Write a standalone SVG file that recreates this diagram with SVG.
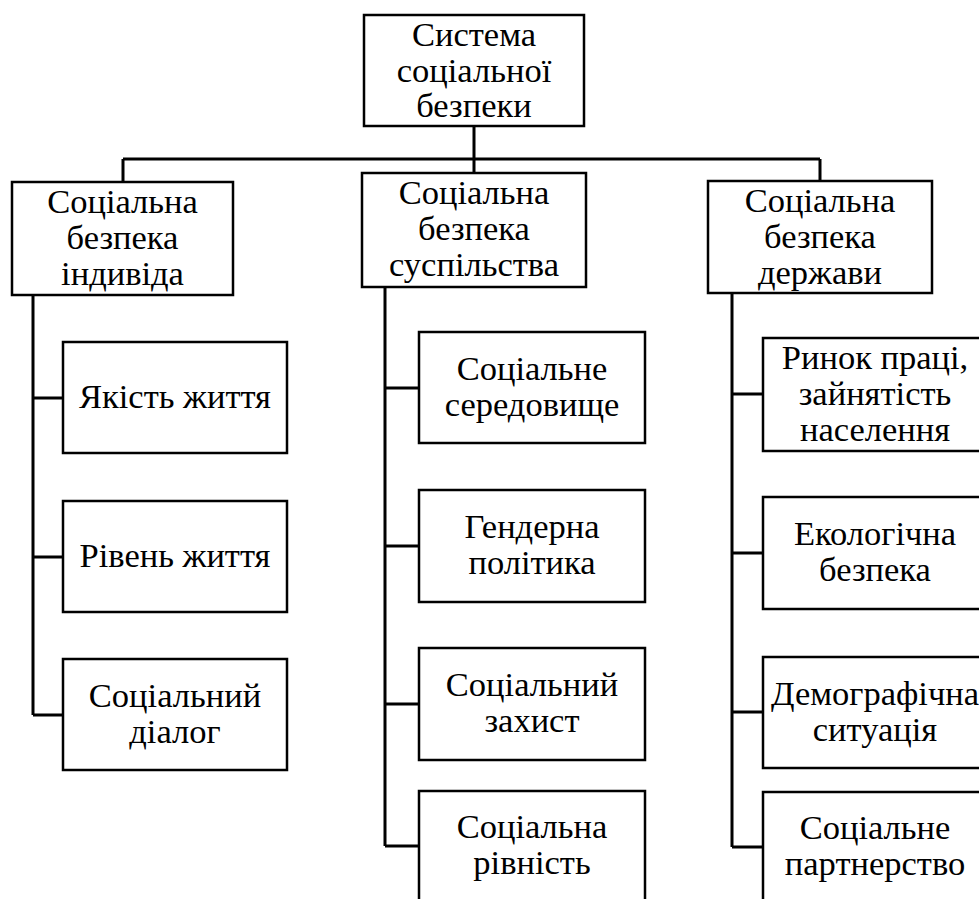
<svg xmlns="http://www.w3.org/2000/svg" width="979" height="899" viewBox="0 0 979 899">
<style>
rect{fill:#fff;stroke:#000;stroke-width:2.5}
text{font-family:'Liberation Serif','Times New Roman',serif;font-size:34.5px;fill:#000;text-anchor:middle}
#connectors path{fill:none;stroke:#000;stroke-width:3}
</style>
<rect x="0" y="0" width="979" height="899" style="stroke:none"/>
<g id="connectors">
<path d="M474 126V159M123 159H820M123 159V182M474 159V173M820 159V181"/>
<path d="M33 295V715M33 398H63M33 557H63M33 715H63"/>
<path d="M385 287V846M385 388H419M385 546H419M385 704H419M385 846H419"/>
<path d="M732 293V847M732 394H763M732 553H763M732 712H763M732 847H763"/>
</g>
<g id="root"><rect x="364" y="15" width="220" height="111"/><text x="474" y="46">Система</text><text x="474" y="82">соціальної</text><text x="474" y="117">безпеки</text></g>
<g id="individ"><rect x="12" y="182" width="221" height="113"/><text x="122.5" y="213">Соціальна</text><text x="122.5" y="249">безпека</text><text x="122.5" y="285">індивіда</text></g>
<g id="suspilstvo"><rect x="362" y="173" width="224" height="114"/><text x="474" y="204">Соціальна</text><text x="474" y="240">безпека</text><text x="474" y="276">суспільства</text></g>
<g id="derzhava"><rect x="708" y="181" width="224" height="112"/><text x="820" y="212">Соціальна</text><text x="820" y="248">безпека</text><text x="820" y="284">держави</text></g>
<g id="yakist"><rect x="63" y="342" width="224" height="111"/><text x="175" y="408">Якість життя</text></g>
<g id="riven"><rect x="63" y="501" width="224" height="111"/><text x="175" y="567">Рівень життя</text></g>
<g id="dialog"><rect x="63" y="659" width="224" height="111"/><text x="175" y="707">Соціальний</text><text x="175" y="743">діалог</text></g>
<g id="seredovyshche"><rect x="419" y="332" width="226" height="111"/><text x="532" y="380">Соціальне</text><text x="532" y="416">середовище</text></g>
<g id="gender"><rect x="419" y="490" width="226" height="112"/><text x="532" y="538">Гендерна</text><text x="532" y="574">політика</text></g>
<g id="zakhyst"><rect x="419" y="648" width="226" height="112"/><text x="532" y="696">Соціальний</text><text x="532" y="732">захист</text></g>
<g id="rivnist"><rect x="419" y="791" width="226" height="120"/><text x="532" y="838">Соціальна</text><text x="532" y="874">рівність</text></g>
<g id="rynok"><rect x="763" y="338" width="224" height="113"/><text x="875" y="369">Ринок праці,</text><text x="875" y="405">зайнятість</text><text x="875" y="441">населення</text></g>
<g id="ekolog"><rect x="763" y="497" width="224" height="112"/><text x="875" y="545">Екологічна</text><text x="875" y="581">безпека</text></g>
<g id="demograf"><rect x="763" y="657" width="224" height="111"/><text x="875" y="705">Демографічна</text><text x="875" y="741">ситуація</text></g>
<g id="partner"><rect x="763" y="792" width="224" height="120"/><text x="875" y="839">Соціальне</text><text x="875" y="875">партнерство</text></g>
</svg>
